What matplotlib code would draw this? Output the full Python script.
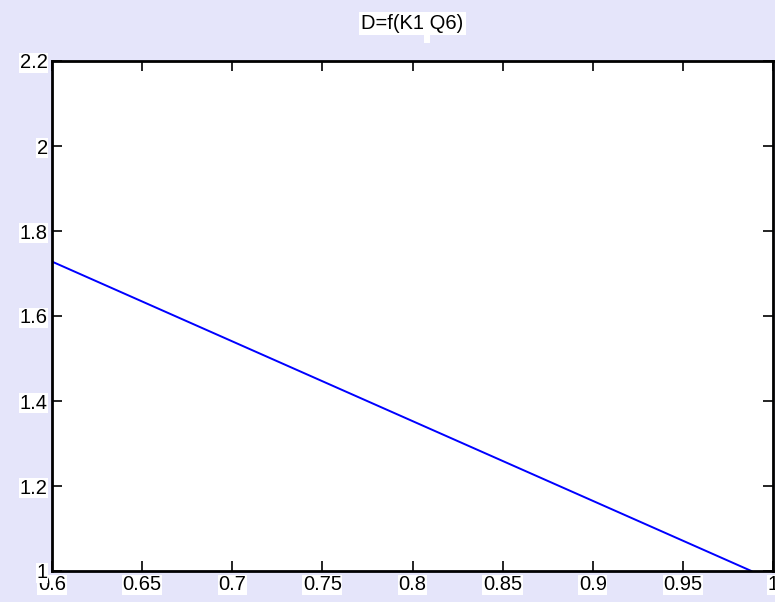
import matplotlib.pyplot as plt
from matplotlib.patches import Rectangle

# D as a function of K1 for Q6
k1 = [0.6, 0.988]
d_vals = [1.728, 1.0]

x_ticks = [0.6, 0.65, 0.7, 0.75, 0.8, 0.85, 0.9, 0.95, 1.0]
x_labels = ["0.6", "0.65", "0.7", "0.75", "0.8", "0.85", "0.9", "0.95", "1"]
y_ticks = [1.0, 1.2, 1.4, 1.6, 1.8, 2.0, 2.2]
y_labels = ["1", "1.2", "1.4", "1.6", "1.8", "2", "2.2"]

bg = "#e5e5fa"
plt.rcParams["font.family"] = ["Liberation Sans", "DejaVu Sans"]

fig = plt.figure(figsize=(7.75, 6.02), dpi=100, facecolor=bg)
ax = fig.add_axes([52 / 775, 31 / 602, 721 / 775, 510 / 602])
ax.set_facecolor("white")

ax.plot(k1, d_vals, color="#0000ff", linewidth=1.4)

ax.set_xlim(0.6, 1.0)
ax.set_ylim(1.0, 2.2)
ax.set_xticks(x_ticks)
ax.set_xticklabels(x_labels)
ax.set_yticks(y_ticks)
ax.set_yticklabels(y_labels)

ax.tick_params(direction="in", length=7, width=1.2, top=True, right=True,
               labelsize=14.5, pad=3, colors="black")
for lbl in ax.get_xticklabels() + ax.get_yticklabels():
    lbl.set_bbox(dict(facecolor="white", edgecolor="none", pad=0.5))

for sp in ax.spines.values():
    sp.set_linewidth(2)

ax.set_title("D=f(K1 Q6)", fontsize=14.5, pad=23,
             bbox=dict(facecolor="white", edgecolor="none", pad=1.5))
fig.patches.append(Rectangle((424 / 775, 559 / 602), 6 / 775, 10 / 602,
                             transform=fig.transFigure, facecolor="white",
                             edgecolor="none"))

fig.savefig("out.png", dpi=100, facecolor=bg)
